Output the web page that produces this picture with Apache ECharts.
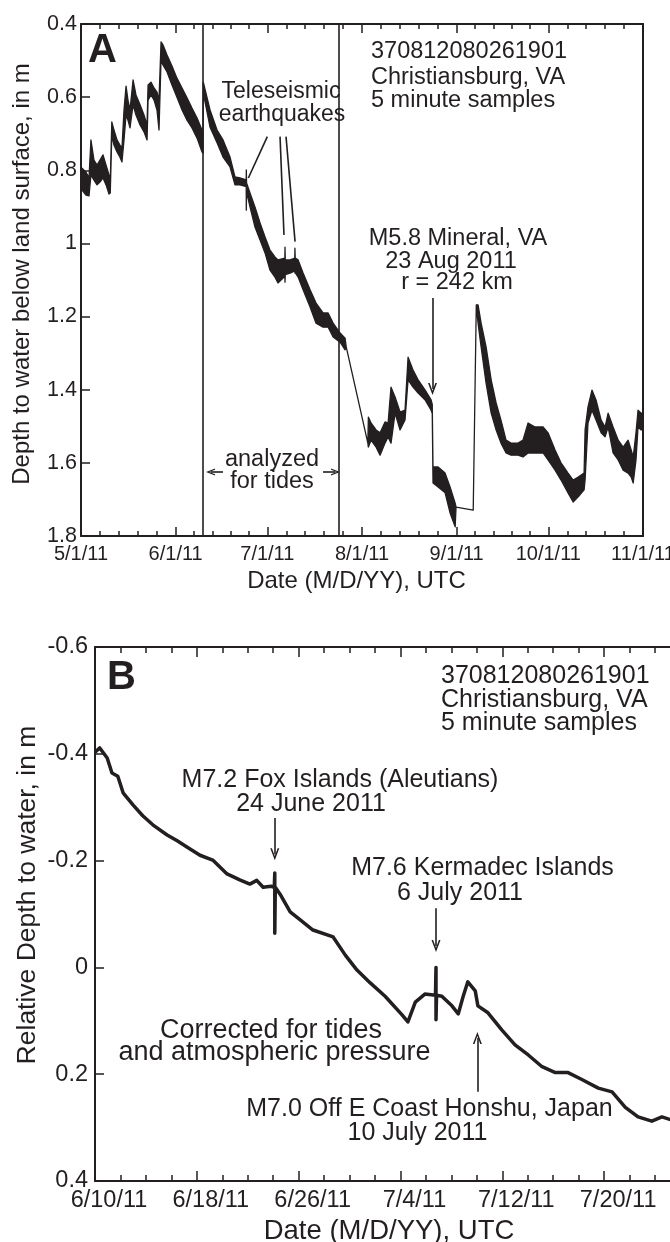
<!DOCTYPE html>
<html>
<head>
<meta charset="utf-8">
<title>Well 370812080261901, Christiansburg, VA</title>
<script src="https://cdn.jsdelivr.net/npm/echarts@6/dist/echarts.min.js"></script>
<style>
  html, body { margin: 0; padding: 0; background: #fff; }
  #chart { width: 670px; height: 1242px; }
</style>
</head>
<body>
<div id="chart"></div>
<script>
// ---------- Panel A: depth to water below land surface (m), 5-minute record ----------
// Each sample time carries the shallow and deep edge of the tidal band.
const timesA = [
  '2011-05-01T08:00','2011-05-02T15:00','2011-05-03T15:00','2011-05-04T06:00','2011-05-05T06:00','2011-05-06T06:00','2011-05-07T05:00','2011-05-08T05:00','2011-05-09T05:00','2011-05-10T04:00',
  '2011-05-10T14:00','2011-05-11T02:00','2011-05-11T19:00','2011-05-12T19:00','2011-05-13T18:00','2011-05-14T10:00','2011-05-15T02:00','2011-05-15T18:00','2011-05-16T09:00','2011-05-17T01:00',
  '2011-05-18T01:00','2011-05-19T00:00','2011-05-20T08:00','2011-05-21T15:00','2011-05-22T15:00','2011-05-22T23:00','2011-05-23T22:00','2011-05-24T22:00','2011-05-25T21:00','2011-05-26T13:00',
  '2011-05-27T05:00','2011-05-27T20:00','2011-05-29T04:00','2011-05-30T19:00','2011-06-01T10:00','2011-06-03T02:00','2011-06-04T17:00','2011-06-06T08:00','2011-06-08T00:00','2011-06-09T15:00',
  '2011-06-09T23:00','2011-06-10T01:00','2011-06-12T06:00','2011-06-14T13:00','2011-06-16T12:00','2011-06-18T19:00','2011-06-20T10:00','2011-06-22T01:00','2011-06-24T02:00','2011-06-24T03:00',
  '2011-06-24T05:00','2011-06-25T08:00','2011-06-26T23:00','2011-06-28T15:00','2011-06-30T06:00','2011-07-01T21:00','2011-07-03T12:00','2011-07-04T12:00','2011-07-06T18:00','2011-07-06T19:00',
  '2011-07-06T21:00','2011-07-08T11:00','2011-07-10T00:00','2011-07-10T01:00','2011-07-10T03:00','2011-07-11T02:00','2011-07-12T17:00','2011-07-15T00:00','2011-07-16T23:00','2011-07-19T06:00',
  '2011-07-20T22:00','2011-07-22T13:00','2011-07-24T20:00','2011-07-26T11:00','2011-07-26T20:00','2011-08-02T22:00','2011-08-03T02:00','2011-08-03T23:00','2011-08-05T15:00','2011-08-06T22:00',
  '2011-08-08T13:00','2011-08-09T13:00','2011-08-10T12:00','2011-08-11T20:00','2011-08-13T11:00','2011-08-15T02:00','2011-08-16T02:00','2011-08-17T17:00','2011-08-19T09:00','2011-08-21T16:00',
  '2011-08-23T15:00','2011-08-24T00:00','2011-08-24T06:00','2011-08-25T22:00','2011-08-28T05:00','2011-08-29T20:00','2011-08-31T12:00','2011-08-31T19:00','2011-09-06T10:00','2011-09-07T10:00',
  '2011-09-08T00:00','2011-09-09T00:00','2011-09-10T15:00','2011-09-12T07:00','2011-09-13T22:00','2011-09-15T12:00','2011-09-17T04:00','2011-09-18T19:00','2011-09-21T02:00','2011-09-22T17:00',
  '2011-09-24T09:00','2011-09-26T16:00','2011-09-29T07:00','2011-09-30T22:00','2011-10-03T05:00','2011-10-05T04:00','2011-10-07T11:00','2011-10-09T03:00','2011-10-10T19:00','2011-10-12T17:00',
  '2011-10-13T01:00','2011-10-14T00:00','2011-10-15T07:00','2011-10-16T15:00','2011-10-18T07:00','2011-10-19T14:00','2011-10-20T14:00','2011-10-22T05:00','2011-10-23T21:00','2011-10-25T12:00',
  '2011-10-27T03:00','2011-10-28T03:00','2011-10-28T19:00','2011-10-29T17:00','2011-10-30T09:00','2011-10-31T09:00','2011-10-31T22:00'
];
const shallowA = [
  0.794,0.805,0.821,0.717,0.772,0.786,0.772,0.758,0.786,0.813,
  0.827,0.668,0.690,0.717,0.731,0.739,0.635,0.570,0.608,0.635,
  0.553,0.594,0.621,0.649,0.676,0.567,0.559,0.575,0.586,0.608,
  0.449,0.457,0.485,0.515,0.548,0.575,0.602,0.630,0.657,0.690,
  0.700,0.559,0.635,0.690,0.717,0.764,0.818,0.821,0.826,0.799,
  0.835,0.862,0.900,0.944,0.982,1.018,1.037,1.045,1.040,1.010,
  1.045,1.045,1.040,1.013,1.040,1.045,1.081,1.127,1.163,1.190,
  1.190,1.218,1.245,1.259,1.283,1.546,1.475,1.491,1.510,1.518,
  1.488,1.491,1.393,1.420,1.461,1.456,1.311,1.346,1.373,1.401,
  1.428,1.440,1.611,1.611,1.628,1.666,1.710,1.721,1.729,1.168,
  1.168,1.218,1.283,1.373,1.436,1.483,1.538,1.546,1.546,1.538,
  1.491,1.502,1.502,1.518,1.565,1.600,1.628,1.647,1.639,1.628,
  1.510,1.447,1.401,1.428,1.483,1.502,1.464,1.502,1.538,1.557,
  1.538,1.565,1.584,1.518,1.456,1.464,1.464
];
const deepA = [
  0.854,0.868,0.870,0.813,0.827,0.840,0.832,0.821,0.840,0.865,
  0.862,0.704,0.731,0.750,0.764,0.777,0.717,0.649,0.663,0.684,
  0.621,0.649,0.676,0.695,0.717,0.608,0.594,0.608,0.635,0.690,
  0.498,0.512,0.531,0.567,0.600,0.635,0.663,0.684,0.712,0.750,
  0.753,0.589,0.682,0.725,0.764,0.791,0.840,0.840,0.845,0.909,
  0.858,0.900,0.955,0.991,1.026,1.073,1.092,1.108,1.090,1.106,
  1.085,1.081,1.075,1.081,1.080,1.092,1.127,1.174,1.218,1.229,
  1.229,1.256,1.270,1.291,1.283,1.546,1.557,1.538,1.557,1.579,
  1.546,1.529,1.546,1.464,1.510,1.483,1.373,1.393,1.409,1.428,
  1.456,1.465,1.655,1.666,1.682,1.737,1.775,1.721,1.729,1.168,
  1.218,1.283,1.382,1.464,1.510,1.546,1.573,1.579,1.579,1.584,
  1.573,1.573,1.573,1.592,1.620,1.647,1.682,1.707,1.693,1.674,
  1.647,1.491,1.456,1.483,1.518,1.529,1.502,1.573,1.592,1.620,
  1.628,1.639,1.655,1.592,1.502,1.510,1.510
];
const rangeA = ['2011-05-01T00:00', '2011-11-01T00:00'];
const monthTicksA = ['2011-05-01','2011-06-01','2011-07-01','2011-08-01','2011-09-01','2011-10-01','2011-11-01'];
const depthTicksA = [0.4, 1.8, 0.2];              // min, max, step
const tideWindowA = ['2011-06-10T00:00', '2011-07-24T12:00'];

// ---------- Panel B: relative depth to water (m), corrected for tides and pressure ----------
const timesB = [
  '2011-06-10T00:00','2011-06-10T09:00','2011-06-10T23:00','2011-06-11T08:00','2011-06-11T19:00','2011-06-12T05:00','2011-06-13T00:00','2011-06-13T18:00','2011-06-14T13:00','2011-06-15T16:00',
  '2011-06-16T11:00','2011-06-17T06:00','2011-06-18T06:00','2011-06-19T06:00','2011-06-20T09:00','2011-06-21T09:00','2011-06-22T04:00','2011-06-22T17:00','2011-06-23T05:00','2011-06-23T20:00',
  '2011-06-24T02:00','2011-06-24T03:00','2011-06-24T03:00','2011-06-24T04:00','2011-06-24T13:00','2011-06-25T08:00','2011-06-26T03:00','2011-06-27T03:00','2011-06-28T17:00','2011-06-29T16:00',
  '2011-06-30T14:00','2011-07-01T15:00','2011-07-02T19:00','2011-07-04T03:00','2011-07-04T14:00','2011-07-05T04:00','2011-07-05T22:00','2011-07-06T18:00','2011-07-06T19:00','2011-07-06T19:00',
  '2011-07-06T20:00','2011-07-07T06:00','2011-07-08T01:00','2011-07-08T13:00','2011-07-08T22:00','2011-07-09T07:00','2011-07-09T21:00','2011-07-10T02:00','2011-07-10T21:00','2011-07-11T23:00',
  '2011-07-13T00:00','2011-07-14T01:00','2011-07-15T03:00','2011-07-16T04:00','2011-07-17T04:00','2011-07-18T06:00','2011-07-19T13:00','2011-07-20T15:00','2011-07-21T16:00','2011-07-22T16:00',
  '2011-07-23T18:00','2011-07-24T13:00','2011-07-25T08:00'
];
const depthB = [
  -0.403,-0.411,-0.392,-0.364,-0.358,-0.327,-0.304,-0.284,-0.267,-0.248,
  -0.237,-0.225,-0.210,-0.201,-0.175,-0.164,-0.156,-0.163,-0.150,-0.152,
  -0.150,-0.177,-0.064,-0.150,-0.137,-0.104,-0.089,-0.070,-0.057,-0.023,
   0.005, 0.029, 0.054, 0.089, 0.102, 0.065, 0.050, 0.052, 0.000, 0.098,
   0.052, 0.054, 0.072, 0.087, 0.055, 0.027, 0.044, 0.072, 0.085, 0.117,
   0.145, 0.164, 0.186, 0.197, 0.197, 0.210, 0.226, 0.233, 0.262, 0.280,
   0.288, 0.280, 0.286
];
const rangeB = ['2011-06-10T00:00', '2011-07-25T08:00'];
const dateTicksB = ['2011-06-10','2011-06-18','2011-06-26','2011-07-04','2011-07-12','2011-07-20'];
const depthTicksB = [-0.6, 0.4, 0.2];

// Earthquake arrival times used for arrows and pointer lines
const quakeFox = '2011-06-24T03:00';
const quakeKermadec = '2011-07-06T19:00';
const quakeHonshu = '2011-07-10T01:00';
const quakeMineral = '2011-08-24T02:00';

// ---------- helpers ----------
const ink = '#231f20';
const FONT = '"Liberation Sans", Arial, Helvetica, sans-serif';
const DAY = 86400000;

function toT(s) {
  return Date.UTC(+s.slice(0, 4), +s.slice(5, 7) - 1, +s.slice(8, 10),
                  +(s.slice(11, 13) || 0), +(s.slice(14, 16) || 0));
}
function fmtDate(v) {
  const d = new Date(v);
  return (d.getUTCMonth() + 1) + '/' + d.getUTCDate() + '/' + String(d.getUTCFullYear()).slice(2);
}

// major month ticks, each month split into five for the minor ticks
const majorA = monthTicksA.map(toT);
const minorA = [];
for (let i = 0; i < majorA.length - 1; i++) {
  for (let k = 1; k < 5; k++) minorA.push(majorA[i] + (majorA[i + 1] - majorA[i]) * k / 5);
}
// panel B: labelled ticks every 8 days, minor ticks every 2 days
const majorB = dateTicksB.map(toT);
const minorB = [];
for (let t = toT(rangeB[0]); t <= toT(rangeB[1]); t += 2 * DAY) {
  if (majorB.indexOf(t) < 0) minorB.push(t);
}

function dateAxis(gridIndex, position, range, ticks, tickLen, showLine, labelOpt) {
  return {
    type: 'value', gridIndex: gridIndex, position: position,
    min: toT(range[0]), max: toT(range[1]),
    splitLine: { show: false },
    axisLine: { show: showLine, onZero: false, lineStyle: { color: ink, width: 2 } },
    axisTick: { show: true, inside: true, length: tickLen, customValues: ticks,
                lineStyle: { color: ink, width: 1.5 } },
    axisLabel: labelOpt
      ? Object.assign({ show: true, customValues: ticks, formatter: fmtDate, color: ink,
                        fontFamily: FONT }, labelOpt)
      : { show: false }
  };
}
function depthAxis(gridIndex, position, ticks, withTicks, labelOpt) {
  return {
    type: 'value', gridIndex: gridIndex, position: position, inverse: true,
    min: ticks[0], max: ticks[1], interval: ticks[2],
    splitLine: { show: false },
    axisLine: { show: true, onZero: false, lineStyle: { color: ink, width: 2 } },
    axisTick: { show: withTicks, inside: true, length: 9, lineStyle: { color: ink, width: 1.5 } },
    axisLabel: labelOpt
      ? Object.assign({ show: true, color: ink, fontFamily: FONT }, labelOpt)
      : { show: false }
  };
}

// open chevron arrow head, tip pointing along the line
const arrowHead = 'path://M5,0 L10,12 L8.2,12 L5,4.2 L1.8,12 L0,12 Z';
function arrow(t, from, to, size) {
  return [
    { coord: [toT(t), from], symbol: 'none' },
    { coord: [toT(t), to], symbol: arrowHead, symbolSize: size || [9, 12] }
  ];
}
function segment(t1, v1, t2, v2) {
  return [{ coord: [toT(t1), v1] }, { coord: [toT(t2), v2] }];
}
function hArrow(t1, t2, v) {
  return [
    { coord: [toT(t1), v], symbol: 'none' },
    { coord: [toT(t2), v], symbol: arrowHead, symbolSize: [7, 9] }
  ];
}

function text(str, x, y, size, opt) {
  opt = opt || {};
  return {
    type: 'text', x: x, y: y, rotation: opt.rotation || 0, silent: true, z: 50,
    style: {
      text: str, fill: ink, fontFamily: FONT, fontSize: size,
      fontWeight: opt.weight || 'normal',
      align: opt.align || 'center', verticalAlign: 'middle'
    }
  };
}

// tidal band of panel A: one closed outline, shallow edge forward and deep edge back
const bandData = timesA.map((s, i) => [toT(s), shallowA[i], deepA[i]]);
function renderBand(params, api) {
  if (params.dataIndex !== 0) return null;
  const pts = [];
  for (let i = 0; i < bandData.length; i++) pts.push(api.coord([bandData[i][0], bandData[i][1]]));
  for (let i = bandData.length - 1; i >= 0; i--) pts.push(api.coord([bandData[i][0], bandData[i][2]]));
  return {
    type: 'polygon',
    shape: { points: pts },
    style: { fill: ink, stroke: ink, lineWidth: 1.3, lineJoin: 'round' }
  };
}
const seriesB = timesB.map((s, i) => [toT(s), depthB[i]]);

const markStyle = { color: ink, width: 1.6, type: 'solid' };

const option = {
  animation: false,
  backgroundColor: '#ffffff',
  textStyle: { fontFamily: FONT, color: ink },
  grid: [
    { left: 81, top: 24, width: 562, height: 512, containLabel: false, outerBoundsMode: 'none' },
    { left: 95, top: 647, width: 577, height: 534, containLabel: false, outerBoundsMode: 'none' }
  ],
  xAxis: [
    dateAxis(0, 'bottom', rangeA, majorA, 9, true, { fontSize: 20, margin: 8 }),
    dateAxis(0, 'bottom', rangeA, minorA, 5, false, null),
    dateAxis(0, 'top', rangeA, majorA, 9, true, null),
    dateAxis(0, 'top', rangeA, minorA, 5, false, null),
    dateAxis(1, 'bottom', rangeB, majorB, 10, true, { fontSize: 23.5, margin: 8, padding: [0, 0, 0, 28] }),
    dateAxis(1, 'bottom', rangeB, minorB, 6, false, null),
    dateAxis(1, 'top', rangeB, majorB, 10, true, null),
    dateAxis(1, 'top', rangeB, minorB, 6, false, null)
  ],
  yAxis: [
    depthAxis(0, 'left', depthTicksA, true, { fontSize: 21.5, margin: 4 }),
    depthAxis(0, 'right', depthTicksA, false, null),
    depthAxis(1, 'left', depthTicksB, true, { fontSize: 23.5, margin: 7 })
  ],
  series: [
    {
      name: 'depth to water', type: 'custom', xAxisIndex: 0, yAxisIndex: 0,
      data: bandData, encode: { x: 0, y: [1, 2] },
      renderItem: renderBand, silent: true, z: 3, clip: true
    },
    {
      name: 'notes A', type: 'line', xAxisIndex: 0, yAxisIndex: 0, data: [],
      markLine: {
        silent: true, animation: false, symbol: 'none',
        label: { show: false }, emphasis: { disabled: true },
        lineStyle: markStyle,
        data: [
          [{ xAxis: toT(tideWindowA[0]), yAxis: depthTicksA[0] }, { xAxis: toT(tideWindowA[0]), yAxis: depthTicksA[1] }],
          [{ xAxis: toT(tideWindowA[1]), yAxis: depthTicksA[0] }, { xAxis: toT(tideWindowA[1]), yAxis: depthTicksA[1] }],
          segment('2011-07-01T00:00', 0.708, '2011-06-24T19:00', 0.821),
          segment('2011-07-05T04:00', 0.708, '2011-07-06T11:00', 0.977),
          segment('2011-07-07T03:00', 0.708, '2011-07-10T02:00', 0.995),
          arrow(quakeMineral, 1.149, 1.398),
          hArrow('2011-06-16T12:00', '2011-06-12T10:00', 1.625),
          hArrow('2011-07-19T06:00', '2011-07-23T08:00', 1.625)
        ]
      }
    },
    {
      name: 'relative depth', type: 'line', xAxisIndex: 4, yAxisIndex: 2,
      data: seriesB, symbol: 'none', silent: true, z: 3,
      lineStyle: { color: ink, width: 3.5, join: 'round' }, itemStyle: { color: ink },
      markLine: {
        silent: true, animation: false, symbol: 'none',
        label: { show: false }, emphasis: { disabled: true },
        lineStyle: markStyle,
        data: [
          arrow(quakeFox, -0.280, -0.212),
          arrow(quakeKermadec, -0.111, -0.040),
          arrow(quakeHonshu, 0.233, 0.132)
        ]
      }
    }
  ],
  graphic: [
    // panel A
    text('A', 88, 50.6, 40, { align: 'left', weight: 'bold' }),
    text('370812080261901', 371, 51.7, 23.5, { align: 'left' }),
    text('Christiansburg, VA', 371, 77.5, 23.5, { align: 'left' }),
    text('5 minute samples', 371, 100.8, 23.5, { align: 'left' }),
    text('Teleseismic', 281, 91.5, 23),
    text('earthquakes', 282, 115, 23),
    text('M5.8 Mineral, VA', 458, 239, 23.5),
    text('23 Aug 2011', 451, 261.5, 23.5),
    text('r = 242 km', 457, 283, 23.5),
    text('analyzed', 272, 460, 23.5),
    text('for tides', 272, 482, 23.5),
    text('Date (M/D/YY), UTC', 356.5, 581.5, 24),
    text('Depth to water below land surface, in m', 22, 274, 24, { rotation: Math.PI / 2 }),
    // panel B
    text('B', 107, 677.6, 40, { align: 'left', weight: 'bold' }),
    text('370812080261901', 441, 676.5, 25, { align: 'left' }),
    text('Christiansburg, VA', 441, 700, 25, { align: 'left' }),
    text('5 minute samples', 441, 723.5, 25, { align: 'left' }),
    text('M7.2 Fox Islands (Aleutians)', 340, 780, 25),
    text('24 June 2011', 311, 804, 25),
    text('M7.6 Kermadec Islands', 482.5, 868.5, 25),
    text('6 July 2011', 460, 893.5, 25),
    text('Corrected for tides', 271, 1030.5, 27),
    text('and atmospheric pressure', 274.5, 1052.5, 27),
    text('M7.0 Off E Coast Honshu, Japan', 429.5, 1109, 25),
    text('10 July 2011', 417.5, 1133.5, 25),
    text('Date (M/D/YY), UTC', 389, 1231, 27.5),
    text('Relative Depth to water, in m', 28, 895, 26.5, { rotation: Math.PI / 2 })
  ]
};

const chart = echarts.init(document.getElementById('chart'), null, { renderer: 'canvas' });
chart.setOption(option);
</script>
</body>
</html>
